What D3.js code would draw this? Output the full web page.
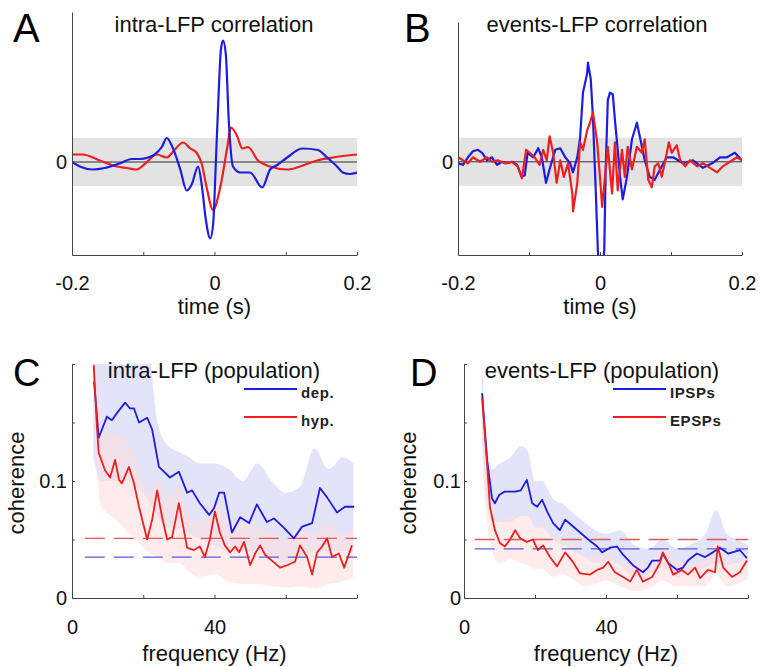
<!DOCTYPE html>
<html>
<head>
<meta charset="utf-8">
<script src="https://cdn.jsdelivr.net/npm/d3@7"></script>
<style>
  body { margin: 0; background: #fff; }
  svg { display: block; }
</style>
</head>
<body>
<svg id="fig" width="764" height="667"></svg>
<script>
// ---- data: cross-correlations (time in s, arbitrary units) ----
const intraBlue = [[-0.200,0],[-0.189,-0.03],[-0.171,-0.05],[-0.154,-0.04],[-0.133,-0.01],[-0.116,0.02],[-0.105,0.02],[-0.093,0.03],[-0.084,0.05],[-0.074,0.10],[-0.067,0.16],[-0.060,0.11],[-0.048,-0.05],[-0.039,-0.19],[-0.032,-0.15],[-0.023,-0.03],[-0.018,-0.15],[-0.012,-0.39],[-0.006,-0.51],[-0.002,-0.42],[0.002,0.01],[0.006,0.48],[0.009,0.75],[0.012,0.81],[0.016,0.71],[0.020,0.28],[0.026,-0.03],[0.036,-0.07],[0.050,-0.07],[0.067,-0.17],[0.078,-0.05],[0.088,-0.02],[0.102,0.03],[0.123,0.09],[0.145,0.08],[0.158,0.03],[0.172,-0.03],[0.180,-0.07],[0.190,-0.08],[0.200,-0.07]]
const intraRed = [[-0.200,0.05],[-0.185,0.05],[-0.161,0.01],[-0.137,-0.03],[-0.123,-0.04],[-0.109,-0.05],[-0.095,0],[-0.081,0.05],[-0.067,0.03],[-0.058,0.07],[-0.044,0.13],[-0.034,0.09],[-0.025,0.06],[-0.018,-0.01],[-0.011,-0.17],[-0.002,-0.32],[0.008,-0.17],[0.018,0.10],[0.023,0.23],[0.032,0.17],[0.039,0.09],[0.047,0.10],[0.061,0.01],[0.078,-0.03],[0.102,-0.05],[0.120,-0.03],[0.144,0.01],[0.166,0.03],[0.200,0.05]]
const eventsBlue = [[-0.2,-0.01],[-0.193,-0.02],[-0.186,0.03],[-0.179,0.07],[-0.172,0.08],[-0.166,0.06],[-0.159,0.01],[-0.152,0.03],[-0.145,-0.02],[-0.138,0],[-0.131,-0.01],[-0.124,0],[-0.117,-0.02],[-0.110,-0.10],[-0.106,-0.09],[-0.102,0.06],[-0.094,0.03],[-0.087,0.09],[-0.082,0.03],[-0.076,-0.14],[-0.071,-0.05],[-0.063,0.08],[-0.056,0.09],[-0.049,0.03],[-0.042,-0.01],[-0.038,-0.07],[-0.032,0.03],[-0.028,0.16],[-0.024,0.46],[-0.018,0.59],[-0.017,0.66],[-0.013,0.55],[-0.010,0.30],[-0.006,-0.19],[-0.003,-0.59],[-0.001,-0.75],[0.003,-0.75],[0.006,-0.59],[0.008,-0.05],[0.011,0.41],[0.014,0.46],[0.018,0.45],[0.021,0.28],[0.025,0.08],[0.028,-0.09],[0.032,-0.25],[0.038,-0.10],[0.045,0.15],[0.052,0.26],[0.056,0.17],[0.063,0.01],[0.070,-0.10],[0.077,-0.12],[0.087,-0.03],[0.094,0.03],[0.103,0.03],[0.117,-0.01],[0.131,0.01],[0.145,-0.04],[0.158,-0.01],[0.169,0.03],[0.179,0.03],[0.190,0.06],[0.200,0.01]]
const eventsRed = [[-0.2,0.03],[-0.193,0.01],[-0.186,-0.01],[-0.179,0.03],[-0.169,0],[-0.159,0.03],[-0.152,0],[-0.144,0.01],[-0.134,-0.01],[-0.124,0],[-0.116,-0.03],[-0.110,-0.11],[-0.104,0.08],[-0.099,0.06],[-0.092,0.03],[-0.085,-0.02],[-0.080,0.08],[-0.075,0.01],[-0.071,0.17],[-0.066,0.06],[-0.061,-0.14],[-0.056,0.01],[-0.051,-0.10],[-0.045,-0.01],[-0.039,-0.21],[-0.038,-0.33],[-0.032,-0.14],[-0.028,0.13],[-0.024,0.08],[-0.018,0.21],[-0.014,0.26],[-0.010,0.33],[-0.004,0.13],[0,-0.10],[0.003,-0.30],[0.007,-0.10],[0.011,0.10],[0.017,-0.21],[0.021,0.13],[0.025,-0.19],[0.031,0.08],[0.035,-0.10],[0.039,0.10],[0.045,-0.05],[0.052,0.10],[0.059,0.06],[0.063,0.15],[0.068,-0.12],[0.073,-0.17],[0.077,-0.03],[0.082,-0.01],[0.087,-0.10],[0.092,0.01],[0.097,0.13],[0.101,0.06],[0.108,0.11],[0.113,0.01],[0.120,-0.03],[0.127,0.01],[0.137,-0.03],[0.145,-0.01],[0.155,-0.04],[0.165,-0.07],[0.173,-0.03],[0.183,0],[0.193,0.03],[0.200,0.01]]
const corrBand = 0.16   // grey significance band (+/-)

// ---- data: coherence spectra (Hz, coherence) ----
const cohDep = [[6.2,0.185],[7.5,0.137],[9.8,0.155],[11.2,0.152],[12.6,0.158],[14.9,0.167],[16.3,0.162],[17.4,0.162],[18.8,0.150],[21.1,0.154],[22.5,0.144],[24.4,0.112],[25.8,0.108],[27.5,0.103],[30.0,0.108],[32.3,0.090],[33.7,0.092],[35.9,0.081],[38.5,0.071],[39.9,0.077],[41.3,0.090],[42.7,0.090],[44.9,0.056],[47.2,0.069],[49.7,0.064],[51.9,0.080],[54.7,0.065],[56.7,0.068],[59.5,0.060],[62.3,0.051],[64.6,0.061],[67.4,0.064],[69.6,0.094],[71.6,0.086],[74.4,0.073],[76.6,0.078],[79.2,0.078]]
const cohHyp = [[6.1,0.199],[7.0,0.146],[7.5,0.124],[9.3,0.109],[10.7,0.103],[12.1,0.118],[13.2,0.101],[14.0,0.098],[16.0,0.112],[17.4,0.098],[18.8,0.078],[21.1,0.050],[22.5,0.067],[23.9,0.092],[25.3,0.069],[26.7,0.050],[28.1,0.052],[30.0,0.081],[31.4,0.058],[32.3,0.043],[34.2,0.041],[35.9,0.044],[37.3,0.035],[38.7,0.050],[40.1,0.074],[41.5,0.056],[42.9,0.045],[44.4,0.039],[45.8,0.044],[46.9,0.039],[48.3,0.048],[50.0,0.028],[51.4,0.038],[52.8,0.045],[54.2,0.037],[56.1,0.032],[58.4,0.026],[60.4,0.028],[62.6,0.031],[64.0,0.045],[66.0,0.035],[67.4,0.020],[68.8,0.039],[70.2,0.044],[71.6,0.051],[73.0,0.035],[74.9,0.038],[76.4,0.026],[78.6,0.045]]
const cohIPSP = [[5.1,0.175],[6.5,0.118],[7.9,0.085],[8.7,0.081],[9.9,0.088],[11.5,0.091],[14.4,0.091],[16.0,0.092],[17.7,0.101],[19.2,0.081],[20.6,0.078],[22.0,0.084],[23.4,0.074],[25.1,0.064],[27.0,0.058],[28.5,0.067],[30.4,0.062],[32.7,0.056],[35.0,0.050],[37.5,0.044],[38.9,0.039],[41.1,0.043],[43.1,0.044],[44.8,0.037],[47.6,0.028],[50.4,0.022],[51.8,0.026],[53.0,0.032],[55.2,0.032],[56.0,0.038],[57.5,0.030],[60.0,0.024],[61.7,0.026],[63.1,0.032],[65.6,0.038],[67.9,0.035],[70.1,0.039],[72.1,0.043],[74.4,0.038],[77.7,0.041],[79.7,0.034]]
const cohEPSP = [[5.1,0.171],[6.5,0.115],[7.3,0.078],[8.7,0.058],[10.1,0.047],[11.5,0.044],[13.0,0.050],[14.4,0.058],[15.8,0.051],[17.7,0.048],[19.4,0.050],[20.8,0.041],[22.3,0.045],[24.2,0.035],[26.2,0.027],[28.5,0.039],[30.4,0.032],[32.7,0.021],[35.5,0.020],[37.5,0.024],[39.2,0.026],[40.6,0.031],[42.5,0.022],[44.8,0.018],[46.8,0.014],[48.7,0.024],[50.4,0.014],[53.0,0.018],[55.2,0.030],[56.0,0.039],[58.0,0.027],[58.9,0.020],[61.4,0.024],[63.1,0.020],[65.1,0.026],[66.5,0.017],[68.7,0.024],[70.7,0.022],[71.5,0.044],[73.0,0.026],[75.5,0.018],[77.7,0.022],[79.7,0.032]]

// shaded spread around the population means
const bandFreqC = [6,8,10,12,15,18,21,24,27,30,33,36,40,44,48,52,56,60,64,68,72,76,79]
const depUpper = [0.25,0.25,0.25,0.24,0.25,0.25,0.23,0.15,0.13,0.125,0.12,0.115,0.115,0.11,0.10,0.115,0.10,0.09,0.095,0.128,0.11,0.12,0.115]
const depLower = [0.12,0.10,0.10,0.10,0.10,0.095,0.085,0.07,0.06,0.06,0.055,0.05,0.045,0.04,0.04,0.04,0.035,0.03,0.035,0.04,0.04,0.04,0.04]
const hypUpper = [0.22,0.16,0.14,0.14,0.135,0.12,0.09,0.10,0.085,0.095,0.07,0.065,0.08,0.065,0.065,0.06,0.055,0.05,0.06,0.055,0.065,0.055,0.06]
const hypLower = [0.18,0.08,0.072,0.068,0.058,0.05,0.04,0.035,0.03,0.03,0.022,0.018,0.02,0.014,0.012,0.012,0.01,0.009,0.01,0.008,0.012,0.014,0.018]

const bandFreqD = [5,6,8,10,13,16,18,20,22,25,28,31,34,37,40,44,48,52,56,60,64,68,71,74,77,80]
const ipspUpper = [0.21,0.15,0.11,0.115,0.12,0.13,0.125,0.10,0.10,0.085,0.08,0.072,0.065,0.058,0.055,0.058,0.045,0.042,0.05,0.042,0.046,0.055,0.075,0.055,0.05,0.045]
const ipspLower = [0.15,0.09,0.065,0.065,0.065,0.07,0.07,0.06,0.06,0.05,0.045,0.04,0.035,0.03,0.032,0.028,0.018,0.02,0.026,0.018,0.024,0.026,0.03,0.028,0.03,0.026]
const epspUpper = [0.18,0.13,0.075,0.065,0.07,0.07,0.072,0.062,0.062,0.05,0.05,0.045,0.035,0.035,0.04,0.03,0.03,0.028,0.045,0.032,0.03,0.032,0.05,0.032,0.03,0.04]
const epspLower = [0.15,0.08,0.04,0.03,0.033,0.03,0.028,0.025,0.025,0.018,0.02,0.015,0.01,0.012,0.015,0.01,0.006,0.008,0.015,0.01,0.01,0.01,0.02,0.01,0.012,0.016]

// significance levels (dashed)
const threshC = { blue: 0.035, red: 0.051 }
const threshD = { blue: 0.042, red: 0.050 }

// ticks
const corrTicks = [-0.2, -0.1, 0, 0.1, 0.2]
const corrTickLabels = ['-0.2', '', '0', '', '0.2']
const freqTicks = [0, 20, 40, 60, 80]
const freqTickLabels = ['0', '', '40', '', '']
const cohTicks = [0, 0.05, 0.1, 0.15, 0.2]
const cohTickLabels = ['0', '', '0.1', '', '']

// ---- drawing ----
const FONT = '"Liberation Sans", Arial, Helvetica, sans-serif'
const BLUE = '#1d1de0'
const RED = '#ec2020'
const svg = d3.select('#fig').style('font-family', FONT)

const styleAxis = (sel, size) => {
  sel.attr('font-family', FONT).attr('font-size', size).style('color', '#444')
  sel.selectAll('text').attr('fill', '#111')
}

const addClip = (id, x0, x1, y0, y1) => {
  svg.append('clipPath').attr('id', id).append('rect')
    .attr('x', x0).attr('y', y1).attr('width', x1 - x0).attr('height', y0 - y1)
}

const panelLetter = (txt, x, y, size) => {
  svg.append('text').attr('x', x).attr('y', y).attr('font-size', size).attr('fill', '#000').text(txt)
}

const corrPanel = p => {
  const x = d3.scaleLinear().domain([-0.2, 0.2]).range(p.xRange)
  const y = d3.scaleLinear().domain(p.yDomain).range(p.yRange)
  const clipId = 'clip' + p.letter
  addClip(clipId, p.xRange[0], p.xRange[1], p.yRange[0], p.yRange[1])

  svg.append('rect')
    .attr('x', x(-0.2)).attr('y', y(corrBand))
    .attr('width', x(0.2) - x(-0.2)).attr('height', y(-corrBand) - y(corrBand))
    .attr('fill', '#e3e3e3')
  svg.append('line')
    .attr('x1', x(-0.2)).attr('x2', x(0.2)).attr('y1', y(0)).attr('y2', y(0))
    .attr('stroke', '#333').attr('stroke-width', 1)

  const line = d3.line().x(d => x(d[0])).y(d => y(d[1])).curve(p.curve)
  p.series.forEach(s => {
    svg.append('path').datum(s.data)
      .attr('d', line).attr('fill', 'none')
      .attr('stroke', s.color).attr('stroke-width', 2.2)
      .attr('stroke-linejoin', 'round')
      .attr('clip-path', `url(#${clipId})`)
  })

  svg.append('g')
    .attr('transform', `translate(0,${p.yRange[0]})`)
    .call(d3.axisBottom(x).tickValues(corrTicks).tickSizeInner(-3).tickSizeOuter(0)
      .tickPadding(21).tickFormat((d, i) => corrTickLabels[i]))
    .call(g => styleAxis(g, 20))
  svg.append('g')
    .attr('transform', `translate(${p.xRange[0]},0)`)
    .call(d3.axisLeft(y).tickValues([0]).tickSizeInner(0).tickSizeOuter(0)
      .tickPadding(5).tickFormat(() => '0'))
    .call(g => styleAxis(g, 20))

  const xm = (p.xRange[0] + p.xRange[1]) / 2
  svg.append('text').attr('x', p.titleX).attr('y', 32).attr('text-anchor', 'middle')
    .attr('font-size', 22).attr('fill', '#111').text(p.title)
  svg.append('text').attr('x', xm).attr('y', 314).attr('text-anchor', 'middle')
    .attr('font-size', 22).attr('fill', '#111').text('time (s)')
  panelLetter(p.letter, p.letterX, 42, 40)
}

const cohPanel = p => {
  const x = d3.scaleLinear().domain([0, 80]).range(p.xRange)
  const y = d3.scaleLinear().domain([0, 0.2]).range([598, 364])
  const clipId = 'clip' + p.letter
  addClip(clipId, p.xRange[0], p.xRange[1], 598, 364)

  const area = d3.area().x(d => x(d.f)).y0(d => y(d.lo)).y1(d => y(d.hi)).curve(d3.curveMonotoneX)
  p.bands.forEach(b => {
    const rows = b.freq.map((f, i) => ({ f, lo: b.lower[i], hi: b.upper[i] }))
    svg.append('path').datum(rows).attr('d', area)
      .attr('fill', b.fill).attr('fill-opacity', b.opacity)
      .attr('clip-path', `url(#${clipId})`)
  })

  p.thresh.forEach(t => {
    svg.append('line')
      .attr('x1', x(t.from)).attr('x2', x(80)).attr('y1', y(t.value)).attr('y2', y(t.value))
      .attr('stroke', t.color).attr('stroke-width', 1.3).attr('stroke-dasharray', '20,9')
  })

  const line = d3.line().x(d => x(d[0])).y(d => y(d[1]))
  p.series.forEach(s => {
    svg.append('path').datum(s.data)
      .attr('d', line).attr('fill', 'none')
      .attr('stroke', s.color).attr('stroke-width', 1.8)
      .attr('stroke-linejoin', 'round')
      .attr('clip-path', `url(#${clipId})`)
  })

  svg.append('g')
    .attr('transform', 'translate(0,598)')
    .call(d3.axisBottom(x).tickValues(freqTicks).tickSizeInner(-3).tickSizeOuter(0)
      .tickPadding(22).tickFormat((d, i) => freqTickLabels[i]))
    .call(g => styleAxis(g, 20))
  svg.append('g')
    .attr('transform', `translate(${p.xRange[0]},0)`)
    .call(d3.axisLeft(y).tickValues(cohTicks).tickSizeInner(-3).tickSizeOuter(0)
      .tickPadding(p.yPad).tickFormat((d, i) => cohTickLabels[i]))
    .call(g => styleAxis(g, 20))

  // legend
  p.series.forEach((s, i) => {
    const ly = 389 + i * 28
    svg.append('line').attr('x1', p.legendX).attr('x2', p.legendX + 53)
      .attr('y1', ly).attr('y2', ly).attr('stroke', s.color).attr('stroke-width', 1.8)
    svg.append('text').attr('x', p.legendX + 57).attr('y', ly + 9)
      .attr('font-size', 15).attr('font-weight', 'bold').attr('letter-spacing', 0.6)
      .attr('fill', '#222').text(s.label)
  })

  svg.append('text').attr('x', p.titleX).attr('y', 378).attr('text-anchor', 'middle')
    .attr('font-size', 22).attr('fill', '#111').text(p.title)
  svg.append('text').attr('x', (p.xRange[0] + p.xRange[1]) / 2).attr('y', 661)
    .attr('text-anchor', 'middle').attr('font-size', 22).attr('fill', '#111').text('frequency (Hz)')
  svg.append('text')
    .attr('transform', `translate(${p.yLabelX},483) rotate(-90)`)
    .attr('text-anchor', 'middle').attr('font-size', 22).attr('fill', '#111').text('coherence')
  panelLetter(p.letter, p.letterX, 386, 38)
}

corrPanel({
  letter: 'A', letterX: 13, title: 'intra-LFP correlation', titleX: 214,
  xRange: [72, 357], yRange: [255, 12], yDomain: [-0.62, 1.0], curve: d3.curveMonotoneX,
  series: [{ data: intraRed, color: RED }, { data: intraBlue, color: BLUE }]
})
corrPanel({
  letter: 'B', letterX: 404, title: 'events-LFP correlation', titleX: 597,
  xRange: [458, 742], yRange: [255, 22], yDomain: [-0.62, 0.93], curve: d3.curveLinear,
  series: [{ data: eventsBlue, color: BLUE }, { data: eventsRed, color: RED }]
})
cohPanel({
  letter: 'C', letterX: 13, title: 'intra-LFP (population)', titleX: 214,
  xRange: [72, 357], yPad: 5, yLabelX: 24, legendX: 244,
  bands: [
    { freq: bandFreqC, upper: depUpper, lower: depLower, fill: '#dedef9', opacity: 0.85 },
    { freq: bandFreqC, upper: hypUpper, lower: hypLower, fill: '#fde0e0', opacity: 0.6 }
  ],
  thresh: [
    { value: threshC.red, color: '#e25a5a', from: 3.6 },
    { value: threshC.blue, color: '#5a5ae0', from: 3.6 }
  ],
  series: [{ data: cohDep, color: BLUE, label: 'dep.' }, { data: cohHyp, color: RED, label: 'hyp.' }]
})
cohPanel({
  letter: 'D', letterX: 410, title: 'events-LFP (population)', titleX: 602,
  xRange: [464, 748], yPad: 3, yLabelX: 416, legendX: 613,
  bands: [
    { freq: bandFreqD, upper: ipspUpper, lower: ipspLower, fill: '#dedef9', opacity: 0.85 },
    { freq: bandFreqD, upper: epspUpper, lower: epspLower, fill: '#fde0e0', opacity: 0.6 }
  ],
  thresh: [
    { value: threshD.red, color: '#e25a5a', from: 3.0 },
    { value: threshD.blue, color: '#5a5ae0', from: 3.0 }
  ],
  series: [{ data: cohIPSP, color: BLUE, label: 'IPSPs' }, { data: cohEPSP, color: RED, label: 'EPSPs' }]
})
</script>
</body>
</html>
